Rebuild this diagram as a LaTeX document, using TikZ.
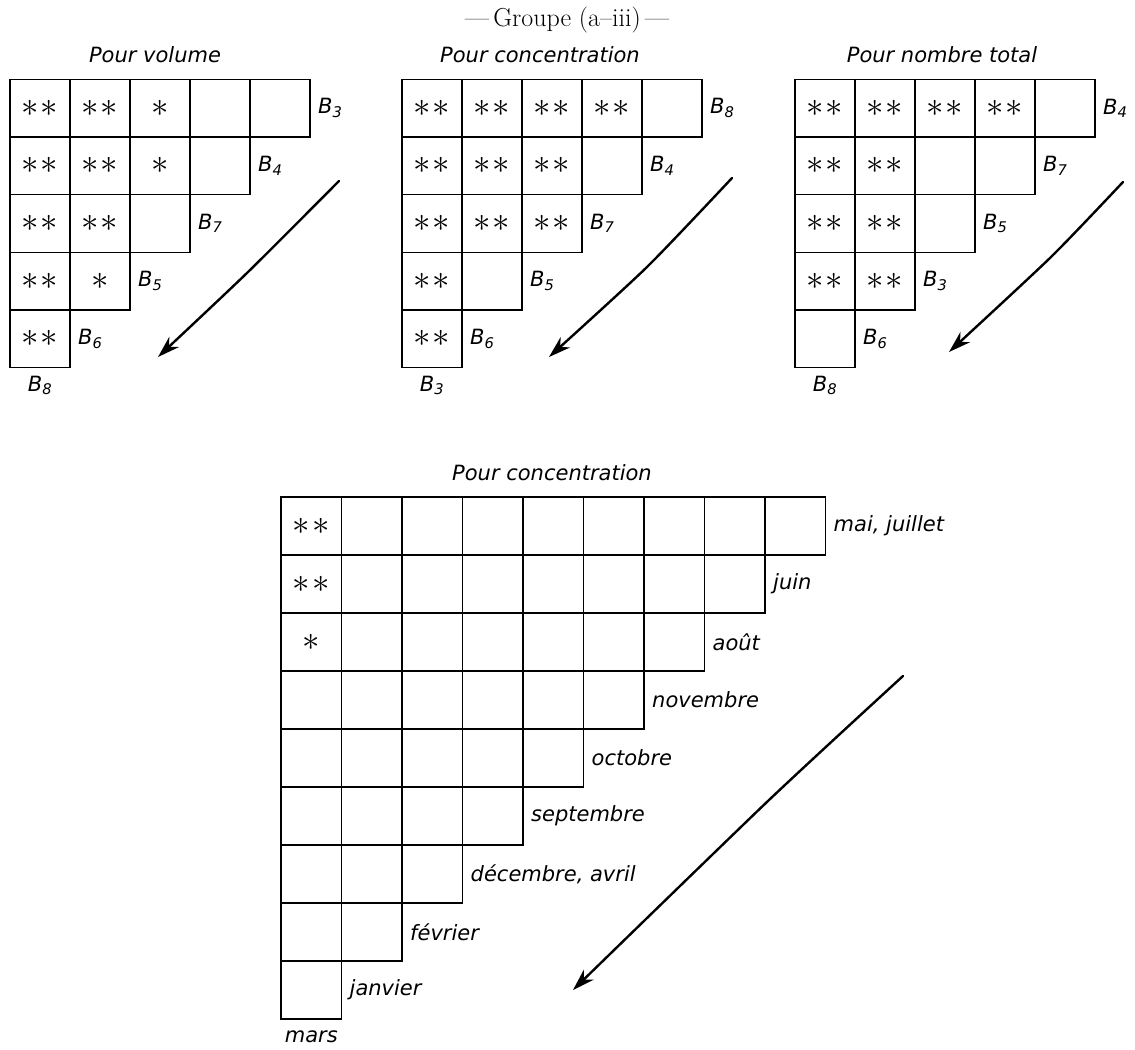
\documentclass[tikz,border=0pt]{standalone}
\usepackage{graphicx}
\usepackage{fontspec}
\setsansfont{DejaVu Sans}
\usepackage{tikz}
\usetikzlibrary{arrows.meta,positioning}

\newcommand{\dstar}{\scalebox{1.4}{$\ast\mkern1mu\ast$}}
\newcommand{\sstar}{\scalebox{1.4}{$\ast$}}

\begin{document}
\begin{tikzpicture}[
  x=1bp, y=-1bp,
  cellbox/.style={
    draw, line width=1.5bp,
    inner sep=0pt, outer sep=0pt, anchor=north west,
    minimum width=60bp, minimum height=57.6bp
  },
  bigcell/.style={cellbox, minimum width=60.5bp, minimum height=58bp},
  starmark/.style={inner sep=0pt, font=\fontsize{24bp}{24bp}\selectfont},
  blab/.style={inner sep=0pt, font=\fontsize{21bp}{25bp}\selectfont\sffamily\itshape},
  ttl/.style={inner sep=0pt, font=\fontsize{21bp}{25bp}\selectfont\sffamily\itshape},
  grp/.style={inner sep=0pt, font=\fontsize{26bp}{30bp}\selectfont},
  trend/.style={-{Stealth[length=22bp,width=14bp,inset=7bp]}, line width=2.4bp,
    line cap=round, line join=round}
  ]
  \useasboundingbox (0,0) rectangle (1135,1050);

  \node[grp] (group) at (567,20) {---\,Groupe (a--iii)\,---};

  % three small triangles
  \node[ttl] (tv) at (155,55) {Pour volume};
  \node[ttl] (tc) at (540,55) {Pour concentration};
  \node[ttl] (tn) at (942,55) {Pour nombre total};
  \foreach \p/\x in {v/10, c/402, n/795}
    \foreach \r in {0,...,4} {
      \pgfmathtruncatemacro\last{4-\r}
      \foreach \c in {0,...,\last}
        \node[cellbox] (\p-\r-\c) at (\x+\c*60, 79.5+\r*57.6) {};
    }
  \foreach \p/\la/\lb/\lc/\ld/\le/\lf in {v/3/4/7/5/6/8, c/8/4/7/5/6/3, n/4/7/5/3/6/8} {
    \node[blab, right=8bp of \p-0-4] (\p-l0) {B\textsubscript{\la}};
    \node[blab, right=8bp of \p-1-3] (\p-l1) {B\textsubscript{\lb}};
    \node[blab, right=8bp of \p-2-2] (\p-l2) {B\textsubscript{\lc}};
    \node[blab, right=8bp of \p-3-1] (\p-l3) {B\textsubscript{\ld}};
    \node[blab, right=8bp of \p-4-0] (\p-l4) {B\textsubscript{\le}};
    \node[blab, below=8bp of \p-4-0] (\p-l5) {B\textsubscript{\lf}};
  }

  % big triangle (months)
  \node[ttl] (tm) at (552,473) {Pour concentration};
  \foreach \r in {0,...,8} {
    \pgfmathtruncatemacro\last{8-\r}
    \foreach \c in {0,...,\last}
      \node[bigcell] (m-\r-\c) at (281+\c*60.5, 497+\r*58) {};
  }
  \foreach \r/\txt in {0/{mai, juillet}, 1/juin, 2/août, 3/novembre, 4/octobre,
    5/septembre, 6/{décembre, avril}, 7/février, 8/janvier} {
    \pgfmathtruncatemacro\last{8-\r}
    \node[blab, right=8bp of m-\r-\last] (ml-\r) {\txt};
  }
  \node[blab, below=12bp of m-8-0] (ml-9) {mars};

  % stars
  \foreach \cell in {v-0-0,v-0-1,v-1-0,v-1-1,v-2-0,v-2-1,v-3-0,v-4-0,
    c-0-0,c-0-1,c-0-2,c-0-3,c-1-0,c-1-1,c-1-2,c-2-0,c-2-1,c-2-2,c-3-0,c-4-0,
    n-0-0,n-0-1,n-0-2,n-0-3,n-1-0,n-1-1,n-2-0,n-2-1,n-3-0,n-3-1,m-0-0,m-1-0}
    \node[starmark] (s\cell) at (\cell) {\dstar};
  \foreach \cell in {v-0-2,v-1-2,v-3-1,m-2-0}
    \node[starmark] (s\cell) at (\cell) {\sstar};

  % trend arrows
  \coordinate (va-s) at (339,181);
  \coordinate (va-e) at (158,357);
  \draw[trend] plot[smooth, tension=0.4] coordinates {(va-s) (248,272) (va-e)};
  \coordinate (ca-s) at (732,178);
  \coordinate (ca-e) at (549,357);
  \draw[trend] plot[smooth, tension=0.4] coordinates {(ca-s) (647,267) (ca-e)};
  \coordinate (na-s) at (1123,182);
  \coordinate (na-e) at (949,352);
  \draw[trend] plot[smooth, tension=0.4] coordinates {(na-s) (1051,257) (na-e)};
  \coordinate (ma-s) at (903,676);
  \coordinate (ma-e) at (573,990);
  \draw[trend] plot[smooth, tension=0.4] coordinates {(ma-s) (769,800) (ma-e)};
\end{tikzpicture}
\end{document}
